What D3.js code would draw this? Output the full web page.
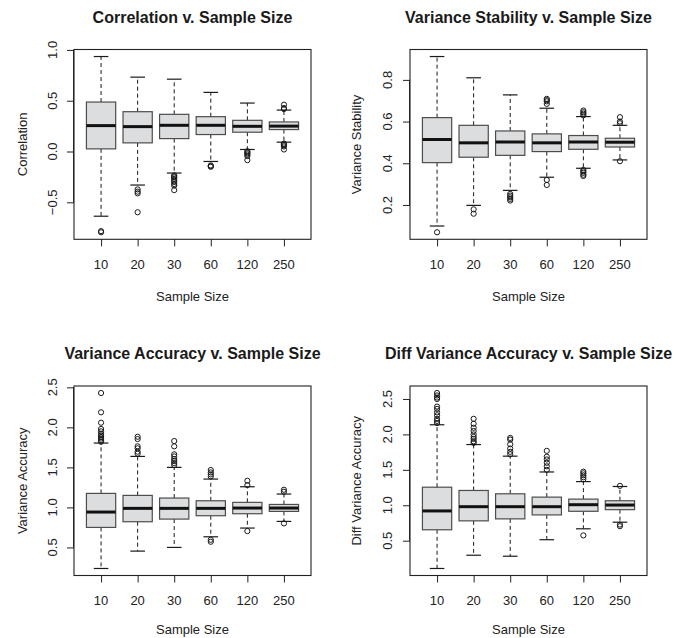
<!DOCTYPE html>
<html><head><meta charset="utf-8">
<script src="https://cdn.jsdelivr.net/npm/d3@7"></script>
<style>
html,body{margin:0;padding:0;background:#fff;}
svg{display:block;font-family:"Liberation Sans",Arial,Helvetica,sans-serif;}
</style></head>
<body>
<svg id="chart" width="693" height="638"></svg>
<script>
const sampleSizes = ["10","20","30","60","120","250"];

// Panel 1: Correlation
const corrLow  = [-0.637, -0.330, -0.212, -0.098, 0.020, 0.092];
const corrQ1   = [0.026, 0.085, 0.127, 0.167, 0.190, 0.216];
const corrMed  = [0.255, 0.245, 0.258, 0.258, 0.248, 0.250];
const corrQ3   = [0.487, 0.392, 0.366, 0.343, 0.307, 0.291];
const corrHigh = [0.935, 0.732, 0.712, 0.582, 0.477, 0.408];
const corrOut  = [[-0.784,-0.795],[-0.373,-0.395,-0.412,-0.598],[-0.235,-0.245,-0.255,-0.27,-0.285,-0.30,-0.32,-0.335,-0.38],[-0.137,-0.145,-0.150],[0.003,-0.008,-0.018,-0.03,-0.045,-0.085],[0.461,0.428,0.418,0.078,0.07,0.062,0.05,0.02]];
const corrTicks = [-0.5, 0.0, 0.5, 1.0];

// Panel 2: Variance Stability
const stabLow  = [0.099, 0.198, 0.270, 0.333, 0.376, 0.416];
const stabQ1   = [0.403, 0.429, 0.438, 0.456, 0.467, 0.478];
const stabMed  = [0.514, 0.498, 0.502, 0.498, 0.502, 0.501];
const stabQ3   = [0.619, 0.582, 0.555, 0.541, 0.533, 0.520];
const stabHigh = [0.912, 0.810, 0.728, 0.664, 0.624, 0.582];
const stabOut  = [[0.069],[0.179,0.158],[0.253,0.245,0.237,0.229,0.221],[0.709,0.703,0.697,0.685,0.32,0.296],[0.653,0.645,0.638,0.63,0.368,0.361,0.354,0.345,0.339],[0.621,0.60,0.592,0.41]];
const stabTicks = [0.2, 0.4, 0.6, 0.8];

// Panel 3: Variance Accuracy
const accLow  = [0.237, 0.454, 0.500, 0.633, 0.742, 0.825];
const accQ1   = [0.750, 0.821, 0.854, 0.896, 0.921, 0.950];
const accMed  = [0.942, 0.988, 0.988, 0.988, 0.992, 0.992];
const accQ3   = [1.175, 1.150, 1.117, 1.083, 1.063, 1.037];
const accHigh = [1.804, 1.637, 1.500, 1.354, 1.258, 1.167];
const accOut  = [[2.429,2.188,2.058,1.98,1.95,1.92,1.90,1.88,1.86,1.84,1.82],[1.883,1.854,1.763,1.738,1.696,1.671],[1.829,1.763,1.663,1.637,1.604,1.579,1.554,1.529],[1.467,1.437,1.412,1.387,0.596,0.571],[1.333,1.279,0.704],[1.221,1.196,0.80]];
const accTicks = [0.5, 1.0, 1.5, 2.0, 2.5];

// Panel 4: Diff Variance Accuracy
const diffLow  = [0.108, 0.295, 0.281, 0.514, 0.668, 0.761];
const diffQ1   = [0.654, 0.780, 0.808, 0.864, 0.915, 0.938];
const diffMed  = [0.920, 0.980, 0.980, 0.980, 1.008, 1.003];
const diffQ3   = [1.255, 1.209, 1.162, 1.115, 1.087, 1.064];
const diffHigh = [2.136, 1.857, 1.693, 1.470, 1.334, 1.265];
const diffOut  = [[2.584,2.55,2.52,2.50,2.393,2.36,2.31,2.27,2.22,2.19,2.16],[2.22,2.15,2.094,2.048,2.0,1.964,1.936,1.903,1.88],[1.95,1.927,1.861,1.8,1.754,1.72],[1.768,1.685,1.647,1.6,1.55,1.5],[1.474,1.451,1.423,1.395,1.366,0.575],[1.274,0.728,0.705]];
const diffTicks = [0.5, 1.0, 1.5, 2.0, 2.5];

const titles = ["Correlation v. Sample Size","Variance Stability v. Sample Size","Variance Accuracy v. Sample Size","Diff Variance Accuracy v. Sample Size"];
const yLabels = ["Correlation","Variance Stability","Variance Accuracy","Diff Variance Accuracy"];
const xLabel = "Sample Size";

const panels = [
  {low:corrLow,q1:corrQ1,med:corrMed,q3:corrQ3,high:corrHigh,out:corrOut,ticks:corrTicks,
   box:{l:74,r:311,t:49.5,b:239.3}, tickOff:17.5, labOff:47},
  {low:stabLow,q1:stabQ1,med:stabMed,q3:stabQ3,high:stabHigh,out:stabOut,ticks:stabTicks,
   box:{l:410,r:647,t:49.5,b:239.3}, tickOff:18.5, labOff:49},
  {low:accLow,q1:accQ1,med:accMed,q3:accQ3,high:accHigh,out:accOut,ticks:accTicks,
   box:{l:74,r:311,t:386,b:575.5}, tickOff:17.5, labOff:47},
  {low:diffLow,q1:diffQ1,med:diffMed,q3:diffQ3,high:diffHigh,out:diffOut,ticks:diffTicks,
   box:{l:410,r:647,t:386,b:575.5}, tickOff:18.5, labOff:49}
];

const svg = d3.select("#chart");
const fillCol = "#dcdddf", borderCol = "#4d4d4d", ink = "#1a1a1a";

panels.forEach((p, pi) => {
  const B = p.box;
  const g = svg.append("g");
  const allVals = p.low.concat(p.high, p.out.flat());
  const mn = d3.min(allVals), mx = d3.max(allVals);
  const pad = (mx - mn) * 0.04;
  const y = d3.scaleLinear().domain([mn - pad, mx + pad]).range([B.b, B.t]);
  const x = d3.scalePoint().domain(sampleSizes).range([B.l, B.r]).padding(0.74);
  const step = x.step();
  const bw = step * 0.8, cw = step * 0.4;

  const data = sampleSizes.map((s, i) => ({s, low:p.low[i], q1:p.q1[i], med:p.med[i], q3:p.q3[i], high:p.high[i], out:p.out[i]}));

  const bx = g.selectAll("g.bx").data(data).enter().append("g").attr("class","bx");
  // whiskers dashed
  bx.append("line").attr("x1", d=>x(d.s)).attr("x2", d=>x(d.s))
    .attr("y1", d=>y(d.q3)).attr("y2", d=>y(d.high))
    .attr("stroke", ink).attr("stroke-width",1).attr("stroke-dasharray","4,3");
  bx.append("line").attr("x1", d=>x(d.s)).attr("x2", d=>x(d.s))
    .attr("y1", d=>y(d.q1)).attr("y2", d=>y(d.low))
    .attr("stroke", ink).attr("stroke-width",1).attr("stroke-dasharray","4,3");
  // caps
  bx.append("line").attr("x1", d=>x(d.s)-cw/2).attr("x2", d=>x(d.s)+cw/2)
    .attr("y1", d=>y(d.high)).attr("y2", d=>y(d.high)).attr("stroke", ink).attr("stroke-width",1.2);
  bx.append("line").attr("x1", d=>x(d.s)-cw/2).attr("x2", d=>x(d.s)+cw/2)
    .attr("y1", d=>y(d.low)).attr("y2", d=>y(d.low)).attr("stroke", ink).attr("stroke-width",1.2);
  // box
  bx.append("rect").attr("x", d=>x(d.s)-bw/2).attr("width", bw)
    .attr("y", d=>y(d.q3)).attr("height", d=>y(d.q1)-y(d.q3))
    .attr("fill", fillCol).attr("stroke", borderCol).attr("stroke-width",1.2);
  // median
  bx.append("line").attr("x1", d=>x(d.s)-bw/2).attr("x2", d=>x(d.s)+bw/2)
    .attr("y1", d=>y(d.med)).attr("y2", d=>y(d.med)).attr("stroke", "#111").attr("stroke-width",3);
  // outliers
  bx.selectAll("circle").data(d => d.out.map(v => ({s:d.s, v}))).enter().append("circle")
    .attr("cx", d=>x(d.s)).attr("cy", d=>y(d.v)).attr("r", 2.6)
    .attr("fill","none").attr("stroke", ink).attr("stroke-width",1);

  // frame
  g.append("rect").attr("x",B.l).attr("y",B.t).attr("width",B.r-B.l).attr("height",B.b-B.t)
    .attr("fill","none").attr("stroke","#222").attr("stroke-width",1.1);

  // x axis
  const xa = g.append("g").attr("transform",`translate(0,${B.b})`)
    .call(d3.axisBottom(x).tickSize(7).tickSizeOuter(0).tickPadding(0));
  xa.select(".domain").remove();
  xa.selectAll(".tick line").attr("stroke","#222");
  xa.selectAll(".tick text").remove();
  g.selectAll("text.xt").data(sampleSizes).enter().append("text").attr("class","xt")
    .attr("x", d=>x(d)).attr("y", B.b + 29.5).attr("text-anchor","middle")
    .attr("font-size","13px").attr("fill","#222").text(d=>d);

  // y axis
  const ya = g.append("g").attr("transform",`translate(${B.l},0)`)
    .call(d3.axisLeft(y).tickValues(p.ticks).tickSize(7).tickSizeOuter(0));
  ya.select(".domain").attr("stroke","#222").attr("d", `M-0.5,${y(d3.min(p.ticks))}V${y(d3.max(p.ticks))}`);
  ya.selectAll(".tick line").attr("stroke","#222");
  ya.selectAll(".tick text").remove();
  g.selectAll("text.yt").data(p.ticks).enter().append("text").attr("class","yt")
    .attr("transform", d=>`translate(${B.l - p.tickOff},${y(d)}) rotate(-90)`)
    .attr("text-anchor","middle").attr("font-size","13px").attr("fill","#222")
    .text(d=>d3.format(".1f")(d).replace("-","\u2212"));

  // labels
  g.append("text").attr("x",(B.l+B.r)/2).attr("y",B.t-27).attr("text-anchor","middle")
    .attr("font-size","16px").attr("font-weight","bold").attr("fill","#1a1a1a").text(titles[pi]);
  g.append("text").attr("x",(B.l+B.r)/2).attr("y",Math.min(B.b+61.5, 634)).attr("text-anchor","middle")
    .attr("font-size","13px").attr("fill","#222").text(xLabel);
  g.append("text").attr("transform",`translate(${B.l - p.labOff},${(B.t+B.b)/2}) rotate(-90)`)
    .attr("text-anchor","middle").attr("font-size","13px").attr("fill","#222").text(yLabels[pi]);
});
</script>
</body></html>
